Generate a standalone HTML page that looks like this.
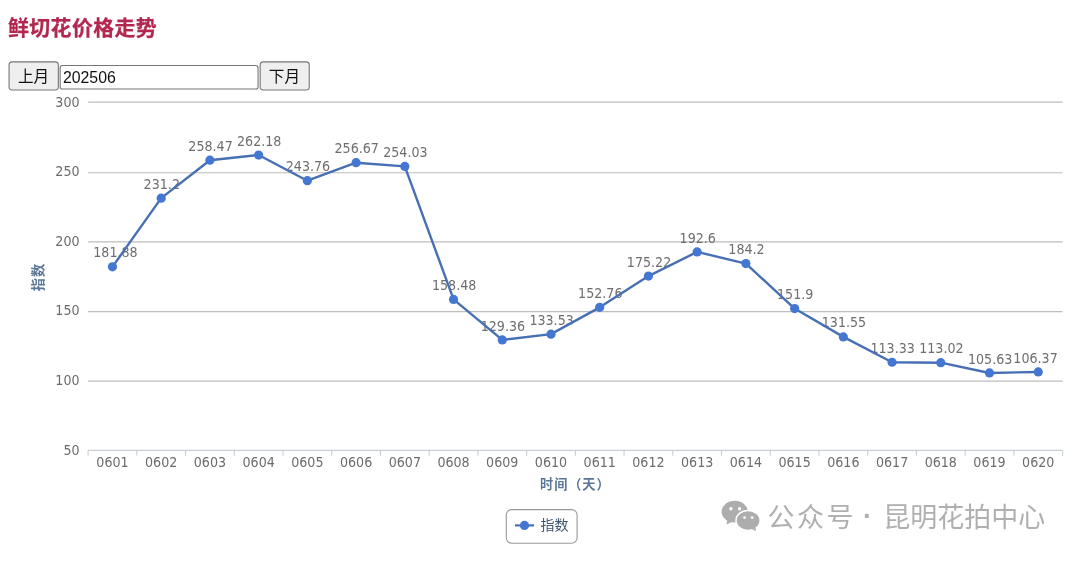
<!DOCTYPE html>
<html lang="zh-CN">
<head>
<meta charset="utf-8">
<title>鲜切花价格走势</title>
<style>
html,body{margin:0;padding:0;background:#fff;}
body{width:1080px;height:566px;position:relative;overflow:hidden;font-family:"Liberation Sans","Noto Sans CJK SC",sans-serif;}
h1{position:absolute;left:8px;top:12.9px;margin:0;font-size:20.9px;line-height:30px;font-weight:bold;color:#b3264f;white-space:nowrap;letter-spacing:0.42px;-webkit-text-stroke:0.25px #b3264f;}
.btn{position:absolute;box-sizing:border-box;top:61px;height:29.5px;width:50px;border:1.1px solid transparent;background:transparent;z-index:2;color:#111;font-size:15.6px;line-height:29.5px;text-align:center;}
.inp{position:absolute;box-sizing:border-box;left:59.5px;top:65px;width:199.3px;height:24.5px;border:1.1px solid transparent;background:transparent;z-index:2;color:#111;font-size:15.85px;line-height:23.2px;padding-left:2.4px;}
</style>
</head>
<body>
<h1>鲜切花价格走势</h1>
<div class="btn" style="left:8.5px;width:50px">上月</div>
<div class="inp">202506</div>
<div class="btn" style="left:258.9px;width:51.1px">下月</div>
<svg width="1080" height="566" viewBox="0 0 1080 566" style="position:absolute;left:0;top:0">
<rect x="9.05" y="61.85" width="49.3" height="28.1" rx="3.2" fill="#efefef" stroke="#767676" stroke-width="1.1"/>
<rect x="60.15" y="65.55" width="197.9" height="23.5" rx="2.4" fill="#fff" stroke="#767676" stroke-width="1.1"/>
<rect x="260.15" y="61.85" width="49.1" height="28.1" rx="3.2" fill="#efefef" stroke="#767676" stroke-width="1.1"/>
<line x1="88.1" x2="1062.6" y1="102.10" y2="102.10" stroke="#bdbdbd" stroke-width="1.1"/>
<line x1="88.1" x2="1062.6" y1="172.70" y2="172.70" stroke="#bdbdbd" stroke-width="1.1"/>
<line x1="88.1" x2="1062.6" y1="241.90" y2="241.90" stroke="#bdbdbd" stroke-width="1.1"/>
<line x1="88.1" x2="1062.6" y1="311.60" y2="311.60" stroke="#bdbdbd" stroke-width="1.1"/>
<line x1="88.1" x2="1062.6" y1="381.10" y2="381.10" stroke="#bdbdbd" stroke-width="1.1"/>
<line x1="88.1" x2="1062.6" y1="450.40" y2="450.40" stroke="#c8ced6" stroke-width="1.1"/>
<line x1="88.10" x2="88.10" y1="450.40" y2="455.70" stroke="#c8ced6" stroke-width="1.1"/>
<line x1="136.82" x2="136.82" y1="450.40" y2="455.70" stroke="#c8ced6" stroke-width="1.1"/>
<line x1="185.55" x2="185.55" y1="450.40" y2="455.70" stroke="#c8ced6" stroke-width="1.1"/>
<line x1="234.27" x2="234.27" y1="450.40" y2="455.70" stroke="#c8ced6" stroke-width="1.1"/>
<line x1="283.00" x2="283.00" y1="450.40" y2="455.70" stroke="#c8ced6" stroke-width="1.1"/>
<line x1="331.72" x2="331.72" y1="450.40" y2="455.70" stroke="#c8ced6" stroke-width="1.1"/>
<line x1="380.45" x2="380.45" y1="450.40" y2="455.70" stroke="#c8ced6" stroke-width="1.1"/>
<line x1="429.17" x2="429.17" y1="450.40" y2="455.70" stroke="#c8ced6" stroke-width="1.1"/>
<line x1="477.90" x2="477.90" y1="450.40" y2="455.70" stroke="#c8ced6" stroke-width="1.1"/>
<line x1="526.62" x2="526.62" y1="450.40" y2="455.70" stroke="#c8ced6" stroke-width="1.1"/>
<line x1="575.35" x2="575.35" y1="450.40" y2="455.70" stroke="#c8ced6" stroke-width="1.1"/>
<line x1="624.07" x2="624.07" y1="450.40" y2="455.70" stroke="#c8ced6" stroke-width="1.1"/>
<line x1="672.80" x2="672.80" y1="450.40" y2="455.70" stroke="#c8ced6" stroke-width="1.1"/>
<line x1="721.52" x2="721.52" y1="450.40" y2="455.70" stroke="#c8ced6" stroke-width="1.1"/>
<line x1="770.25" x2="770.25" y1="450.40" y2="455.70" stroke="#c8ced6" stroke-width="1.1"/>
<line x1="818.97" x2="818.97" y1="450.40" y2="455.70" stroke="#c8ced6" stroke-width="1.1"/>
<line x1="867.70" x2="867.70" y1="450.40" y2="455.70" stroke="#c8ced6" stroke-width="1.1"/>
<line x1="916.42" x2="916.42" y1="450.40" y2="455.70" stroke="#c8ced6" stroke-width="1.1"/>
<line x1="965.15" x2="965.15" y1="450.40" y2="455.70" stroke="#c8ced6" stroke-width="1.1"/>
<line x1="1013.87" x2="1013.87" y1="450.40" y2="455.70" stroke="#c8ced6" stroke-width="1.1"/>
<line x1="1062.60" x2="1062.60" y1="450.40" y2="455.70" stroke="#c8ced6" stroke-width="1.1"/>
<text transform="translate(79.6,106.53) scale(0.948,1)" text-anchor="end" font-size="13.4" fill="#6c6c6c" font-family="DejaVu Sans, Liberation Sans, sans-serif">300</text>
<text transform="translate(79.6,176.13) scale(0.948,1)" text-anchor="end" font-size="13.4" fill="#6c6c6c" font-family="DejaVu Sans, Liberation Sans, sans-serif">250</text>
<text transform="translate(79.6,245.73) scale(0.948,1)" text-anchor="end" font-size="13.4" fill="#6c6c6c" font-family="DejaVu Sans, Liberation Sans, sans-serif">200</text>
<text transform="translate(79.6,315.33) scale(0.948,1)" text-anchor="end" font-size="13.4" fill="#6c6c6c" font-family="DejaVu Sans, Liberation Sans, sans-serif">150</text>
<text transform="translate(79.6,384.93) scale(0.948,1)" text-anchor="end" font-size="13.4" fill="#6c6c6c" font-family="DejaVu Sans, Liberation Sans, sans-serif">100</text>
<text transform="translate(79.6,454.53) scale(0.948,1)" text-anchor="end" font-size="13.4" fill="#6c6c6c" font-family="DejaVu Sans, Liberation Sans, sans-serif">50</text>
<text transform="translate(112.46,466.55) scale(0.948,1)" text-anchor="middle" font-size="13.4" fill="#6c6c6c" font-family="DejaVu Sans, Liberation Sans, sans-serif">0601</text>
<text transform="translate(161.19,466.55) scale(0.948,1)" text-anchor="middle" font-size="13.4" fill="#6c6c6c" font-family="DejaVu Sans, Liberation Sans, sans-serif">0602</text>
<text transform="translate(209.91,466.55) scale(0.948,1)" text-anchor="middle" font-size="13.4" fill="#6c6c6c" font-family="DejaVu Sans, Liberation Sans, sans-serif">0603</text>
<text transform="translate(258.64,466.55) scale(0.948,1)" text-anchor="middle" font-size="13.4" fill="#6c6c6c" font-family="DejaVu Sans, Liberation Sans, sans-serif">0604</text>
<text transform="translate(307.36,466.55) scale(0.948,1)" text-anchor="middle" font-size="13.4" fill="#6c6c6c" font-family="DejaVu Sans, Liberation Sans, sans-serif">0605</text>
<text transform="translate(356.09,466.55) scale(0.948,1)" text-anchor="middle" font-size="13.4" fill="#6c6c6c" font-family="DejaVu Sans, Liberation Sans, sans-serif">0606</text>
<text transform="translate(404.81,466.55) scale(0.948,1)" text-anchor="middle" font-size="13.4" fill="#6c6c6c" font-family="DejaVu Sans, Liberation Sans, sans-serif">0607</text>
<text transform="translate(453.54,466.55) scale(0.948,1)" text-anchor="middle" font-size="13.4" fill="#6c6c6c" font-family="DejaVu Sans, Liberation Sans, sans-serif">0608</text>
<text transform="translate(502.26,466.55) scale(0.948,1)" text-anchor="middle" font-size="13.4" fill="#6c6c6c" font-family="DejaVu Sans, Liberation Sans, sans-serif">0609</text>
<text transform="translate(550.99,466.55) scale(0.948,1)" text-anchor="middle" font-size="13.4" fill="#6c6c6c" font-family="DejaVu Sans, Liberation Sans, sans-serif">0610</text>
<text transform="translate(599.71,466.55) scale(0.948,1)" text-anchor="middle" font-size="13.4" fill="#6c6c6c" font-family="DejaVu Sans, Liberation Sans, sans-serif">0611</text>
<text transform="translate(648.44,466.55) scale(0.948,1)" text-anchor="middle" font-size="13.4" fill="#6c6c6c" font-family="DejaVu Sans, Liberation Sans, sans-serif">0612</text>
<text transform="translate(697.16,466.55) scale(0.948,1)" text-anchor="middle" font-size="13.4" fill="#6c6c6c" font-family="DejaVu Sans, Liberation Sans, sans-serif">0613</text>
<text transform="translate(745.89,466.55) scale(0.948,1)" text-anchor="middle" font-size="13.4" fill="#6c6c6c" font-family="DejaVu Sans, Liberation Sans, sans-serif">0614</text>
<text transform="translate(794.61,466.55) scale(0.948,1)" text-anchor="middle" font-size="13.4" fill="#6c6c6c" font-family="DejaVu Sans, Liberation Sans, sans-serif">0615</text>
<text transform="translate(843.34,466.55) scale(0.948,1)" text-anchor="middle" font-size="13.4" fill="#6c6c6c" font-family="DejaVu Sans, Liberation Sans, sans-serif">0616</text>
<text transform="translate(892.06,466.55) scale(0.948,1)" text-anchor="middle" font-size="13.4" fill="#6c6c6c" font-family="DejaVu Sans, Liberation Sans, sans-serif">0617</text>
<text transform="translate(940.79,466.55) scale(0.948,1)" text-anchor="middle" font-size="13.4" fill="#6c6c6c" font-family="DejaVu Sans, Liberation Sans, sans-serif">0618</text>
<text transform="translate(989.51,466.55) scale(0.948,1)" text-anchor="middle" font-size="13.4" fill="#6c6c6c" font-family="DejaVu Sans, Liberation Sans, sans-serif">0619</text>
<text transform="translate(1038.24,466.55) scale(0.948,1)" text-anchor="middle" font-size="13.4" fill="#6c6c6c" font-family="DejaVu Sans, Liberation Sans, sans-serif">0620</text>
<text transform="translate(115.46,257.42) scale(0.948,1)" text-anchor="middle" font-size="13.4" fill="#6e6e6e" font-family="DejaVu Sans, Liberation Sans, sans-serif">181.88</text>
<text transform="translate(161.79,188.77) scale(0.948,1)" text-anchor="middle" font-size="13.4" fill="#6e6e6e" font-family="DejaVu Sans, Liberation Sans, sans-serif">231.2</text>
<text transform="translate(210.51,150.81) scale(0.948,1)" text-anchor="middle" font-size="13.4" fill="#6e6e6e" font-family="DejaVu Sans, Liberation Sans, sans-serif">258.47</text>
<text transform="translate(259.24,145.65) scale(0.948,1)" text-anchor="middle" font-size="13.4" fill="#6e6e6e" font-family="DejaVu Sans, Liberation Sans, sans-serif">262.18</text>
<text transform="translate(307.96,171.29) scale(0.948,1)" text-anchor="middle" font-size="13.4" fill="#6e6e6e" font-family="DejaVu Sans, Liberation Sans, sans-serif">243.76</text>
<text transform="translate(356.69,153.32) scale(0.948,1)" text-anchor="middle" font-size="13.4" fill="#6e6e6e" font-family="DejaVu Sans, Liberation Sans, sans-serif">256.67</text>
<text transform="translate(405.41,156.99) scale(0.948,1)" text-anchor="middle" font-size="13.4" fill="#6e6e6e" font-family="DejaVu Sans, Liberation Sans, sans-serif">254.03</text>
<text transform="translate(454.14,290.00) scale(0.948,1)" text-anchor="middle" font-size="13.4" fill="#6e6e6e" font-family="DejaVu Sans, Liberation Sans, sans-serif">158.48</text>
<text transform="translate(502.86,330.53) scale(0.948,1)" text-anchor="middle" font-size="13.4" fill="#6e6e6e" font-family="DejaVu Sans, Liberation Sans, sans-serif">129.36</text>
<text transform="translate(551.59,324.73) scale(0.948,1)" text-anchor="middle" font-size="13.4" fill="#6e6e6e" font-family="DejaVu Sans, Liberation Sans, sans-serif">133.53</text>
<text transform="translate(600.31,297.96) scale(0.948,1)" text-anchor="middle" font-size="13.4" fill="#6e6e6e" font-family="DejaVu Sans, Liberation Sans, sans-serif">152.76</text>
<text transform="translate(649.04,266.69) scale(0.948,1)" text-anchor="middle" font-size="13.4" fill="#6e6e6e" font-family="DejaVu Sans, Liberation Sans, sans-serif">175.22</text>
<text transform="translate(697.76,242.50) scale(0.948,1)" text-anchor="middle" font-size="13.4" fill="#6e6e6e" font-family="DejaVu Sans, Liberation Sans, sans-serif">192.6</text>
<text transform="translate(746.49,254.19) scale(0.948,1)" text-anchor="middle" font-size="13.4" fill="#6e6e6e" font-family="DejaVu Sans, Liberation Sans, sans-serif">184.2</text>
<text transform="translate(795.21,299.16) scale(0.948,1)" text-anchor="middle" font-size="13.4" fill="#6e6e6e" font-family="DejaVu Sans, Liberation Sans, sans-serif">151.9</text>
<text transform="translate(843.94,327.48) scale(0.948,1)" text-anchor="middle" font-size="13.4" fill="#6e6e6e" font-family="DejaVu Sans, Liberation Sans, sans-serif">131.55</text>
<text transform="translate(892.66,352.84) scale(0.948,1)" text-anchor="middle" font-size="13.4" fill="#6e6e6e" font-family="DejaVu Sans, Liberation Sans, sans-serif">113.33</text>
<text transform="translate(941.39,353.28) scale(0.948,1)" text-anchor="middle" font-size="13.4" fill="#6e6e6e" font-family="DejaVu Sans, Liberation Sans, sans-serif">113.02</text>
<text transform="translate(990.11,363.56) scale(0.948,1)" text-anchor="middle" font-size="13.4" fill="#6e6e6e" font-family="DejaVu Sans, Liberation Sans, sans-serif">105.63</text>
<text transform="translate(1035.54,362.53) scale(0.948,1)" text-anchor="middle" font-size="13.4" fill="#6e6e6e" font-family="DejaVu Sans, Liberation Sans, sans-serif">106.37</text>
<polyline points="112.46,266.82 161.19,198.17 209.91,160.21 258.64,155.05 307.36,180.69 356.09,162.72 404.81,166.39 453.54,299.40 502.26,339.93 550.99,334.13 599.71,307.36 648.44,276.09 697.16,251.90 745.89,263.59 794.61,308.56 843.34,336.88 892.06,362.24 940.79,362.68 989.51,372.96 1038.24,371.93" fill="none" stroke="#4770b4" stroke-width="2.4" stroke-linejoin="round" stroke-linecap="round"/>
<circle cx="112.46" cy="266.82" r="4.6" fill="#4377d2"/>
<circle cx="161.19" cy="198.17" r="4.6" fill="#4377d2"/>
<circle cx="209.91" cy="160.21" r="4.6" fill="#4377d2"/>
<circle cx="258.64" cy="155.05" r="4.6" fill="#4377d2"/>
<circle cx="307.36" cy="180.69" r="4.6" fill="#4377d2"/>
<circle cx="356.09" cy="162.72" r="4.6" fill="#4377d2"/>
<circle cx="404.81" cy="166.39" r="4.6" fill="#4377d2"/>
<circle cx="453.54" cy="299.40" r="4.6" fill="#4377d2"/>
<circle cx="502.26" cy="339.93" r="4.6" fill="#4377d2"/>
<circle cx="550.99" cy="334.13" r="4.6" fill="#4377d2"/>
<circle cx="599.71" cy="307.36" r="4.6" fill="#4377d2"/>
<circle cx="648.44" cy="276.09" r="4.6" fill="#4377d2"/>
<circle cx="697.16" cy="251.90" r="4.6" fill="#4377d2"/>
<circle cx="745.89" cy="263.59" r="4.6" fill="#4377d2"/>
<circle cx="794.61" cy="308.56" r="4.6" fill="#4377d2"/>
<circle cx="843.34" cy="336.88" r="4.6" fill="#4377d2"/>
<circle cx="892.06" cy="362.24" r="4.6" fill="#4377d2"/>
<circle cx="940.79" cy="362.68" r="4.6" fill="#4377d2"/>
<circle cx="989.51" cy="372.96" r="4.6" fill="#4377d2"/>
<circle cx="1038.24" cy="371.93" r="4.6" fill="#4377d2"/>
<text x="575.3" y="489.4" text-anchor="middle" font-size="13.2" letter-spacing="0.9" font-weight="bold" fill="#5b7797" font-family="Liberation Sans, Noto Sans CJK SC, sans-serif">时间（天）</text>
<text transform="translate(42.6,277) rotate(-90)" text-anchor="middle" font-size="13.2" letter-spacing="1" font-weight="bold" fill="#5b7797" font-family="Liberation Sans, Noto Sans CJK SC, sans-serif">指数</text>
<rect x="506.3" y="509.6" width="70.8" height="33.6" rx="5.5" ry="5.5" fill="#fff" stroke="#999" stroke-width="1.1"/>
<line x1="515" x2="534" y1="525.4" y2="525.4" stroke="#4770b4" stroke-width="2.2"/>
<circle cx="524.5" cy="525.4" r="4.6" fill="#4377d2"/>
<text x="540.5" y="530.3" font-size="14" fill="#3e576f" font-family="Liberation Sans, Noto Sans CJK SC, sans-serif">指数</text>
<g fill="#adadad"><ellipse cx="734.7" cy="511.6" rx="13.1" ry="10.9"/><path d="M727.6 519.5 L726.4 524.6 L732.8 521.4 Z"/></g>
<g><ellipse cx="748.1" cy="520.5" rx="12.1" ry="10.1" fill="#adadad" stroke="#fff" stroke-width="1.5"/><path d="M751.5 529 L756.1 531.1 L755.3 526.5 Z" fill="#adadad"/><circle cx="730.9" cy="508.7" r="1.7" fill="#fff"/><circle cx="739.6" cy="508.7" r="1.7" fill="#fff"/><circle cx="744.6" cy="517.6" r="1.4" fill="#fff"/><circle cx="752.2" cy="517.6" r="1.4" fill="#fff"/></g>
<text x="767.6" y="527.2" letter-spacing="2.4" font-size="27" fill="#b0b0b0" font-family="Liberation Sans, Noto Sans CJK SC, sans-serif">公众号</text>
<text x="867.5" y="524.6" text-anchor="middle" font-weight="bold" font-size="27" fill="#b0b0b0" font-family="Liberation Sans, Noto Sans CJK SC, sans-serif">·</text>
<text x="883.2" y="527.2" font-size="27" fill="#b0b0b0" font-family="Liberation Sans, Noto Sans CJK SC, sans-serif">昆明花拍中心</text>
</svg>
</body>
</html>
